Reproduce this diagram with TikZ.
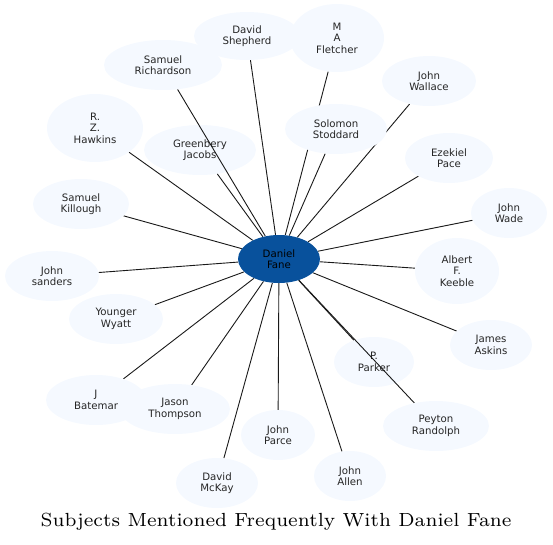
\documentclass[tikz,border=0pt]{standalone}
\usepackage{fontspec}
\usetikzlibrary{shapes.geometric}
\newfontfamily\labelfont{DejaVu Sans}
\newfontfamily\titlefont{lmroman7-regular.otf}
\definecolor{subjfill}{HTML}{F5F9FF}
\definecolor{hubfill}{HTML}{08519C}
\pgfdeclarelayer{back}
\pgfdeclarelayer{edges}
\pgfsetlayers{back,edges,main}
\tikzset{
  subj/.style={ellipse, fill=subjfill, inner sep=0pt, align=center, text=black!85,
    font=\labelfont\fontsize{10.2}{11.4}\selectfont},
  hub/.style={subj, fill=hubfill, text=black},
  link/.style={line width=0.9pt, black!90},
}
\begin{document}
\begin{tikzpicture}[x=1pt,y=1pt,yscale=-1]
        \useasboundingbox (0,0) rectangle (553,544);

        % Nodes drawn under the connectors
        \begin{pgfonlayer}{back}
        \node[subj, minimum width=112, minimum height=50] (jacobs) at (200,150) {Greenbery\\Jacobs};
        \node[subj, minimum width=80, minimum height=50] (parker) at (374,362) {P.\\Parker};
        \end{pgfonlayer}

        % Centre
        \node[hub, minimum width=82, minimum height=48] (fane) at (279,259) {Daniel\\Fane};

        % Subjects
        \node[subj, minimum width=106, minimum height=48] (shepherd) at (247,36) {David\\Shepherd};
        \node[subj, minimum width=94, minimum height=68] (fletcher) at (337,38) {M\\A\\Fletcher};
        \node[subj, minimum width=118, minimum height=50] (richardson) at (163,65) {Samuel\\Richardson};
        \node[subj, minimum width=96, minimum height=68] (hawkins) at (95,128) {R.\\Z.\\Hawkins};
        \node[subj, minimum width=96, minimum height=50] (killough) at (81,204) {Samuel\\Killough};
        \node[subj, minimum width=102, minimum height=50] (stoddard) at (336,129) {Solomon\\Stoddard};
        \node[subj, minimum width=94, minimum height=50] (wallace) at (429,81) {John\\Wallace};
        \node[subj, minimum width=88, minimum height=50] (pace) at (449,158) {Ezekiel\\Pace};
        \node[subj, minimum width=76, minimum height=50] (wade) at (509,213) {John\\Wade};
        \node[subj, minimum width=84, minimum height=66] (keeble) at (457,271) {Albert\\F.\\Keeble};
        \node[subj, minimum width=82, minimum height=50] (askins) at (491,345) {James\\Askins};
        \node[subj, minimum width=106, minimum height=50] (randolph) at (436,426) {Peyton\\Randolph};
        \node[subj, minimum width=72, minimum height=50] (allen) at (350,476) {John\\Allen};
        \node[subj, minimum width=74, minimum height=50] (parce) at (278,435) {John\\Parce};
        \node[subj, minimum width=82, minimum height=50] (mckay) at (217,483) {David\\McKay};
        \node[subj, minimum width=100, minimum height=50] (batemar) at (96,400) {J\\Batemar};
        \node[subj, minimum width=110, minimum height=50] (thompson) at (175,409) {Jason\\Thompson};
        \node[subj, minimum width=94, minimum height=50] (wyatt) at (116,319) {Younger\\Wyatt};
        \node[subj, minimum width=94, minimum height=50] (sanders) at (52,276) {John\\sanders};

        % Connectors
        \begin{pgfonlayer}{edges}
        \foreach \n in {shepherd,fletcher,richardson,hawkins,jacobs,killough,stoddard,wallace,pace,wade,keeble,askins,parker,randolph,allen,parce,mckay,batemar,thompson,wyatt,sanders}
          \draw[link] (fane) -- (\n);
        \end{pgfonlayer}

        % Title
        \node (title) at (276,522) {\titlefont\fontsize{19}{22}\selectfont Subjects Mentioned Frequently With Daniel Fane};
\end{tikzpicture}
\end{document}
